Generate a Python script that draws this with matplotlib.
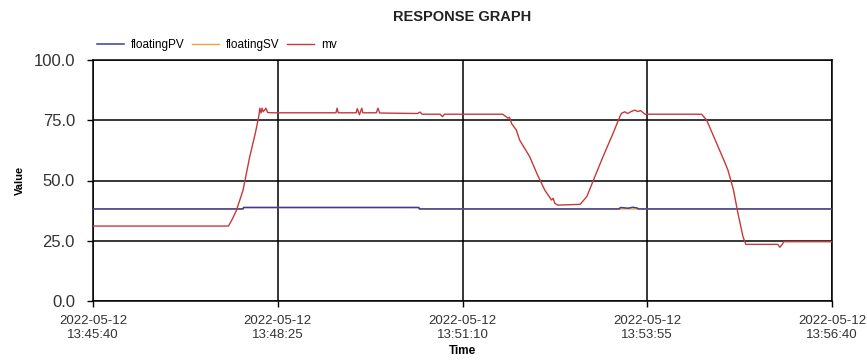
import datetime as dt

import matplotlib

matplotlib.use("Agg")
import matplotlib.pyplot as plt  # noqa: E402
import matplotlib.dates as mdates  # noqa: E402

plt.rcParams["font.family"] = ["Liberation Sans", "DejaVu Sans"]

# --- data (seconds after 13:45:40) ---
start = dt.datetime(2022, 5, 12, 13, 45, 40)

mv_t = [0, 121, 124, 128, 134, 140, 145, 148, 149, 150, 151, 152, 154.5, 156,
        160, 217, 218, 219, 235, 236, 238, 240, 241, 253, 254.5, 256, 290, 292,
        294, 310, 312, 314, 366, 370.5, 372, 374, 378, 381, 390, 397, 403.5,
        409.5, 411, 412.5, 415, 435, 441, 447, 455.5, 464.5, 470.5, 472, 475,
        477.5, 481, 484, 486.5, 489, 493, 543.5, 548, 557, 564, 567, 572, 576,
        580.5, 583, 611.5, 613.5, 615, 617, 660]
mv_v = [31.1, 31.1, 33.6, 37.5, 46.0, 59.9, 69.7, 76.5, 80.0, 78.0, 80.0, 78.5,
        80.0, 78.2, 78.1, 78.1, 80.0, 78.1, 78.1, 79.8, 77.3, 80.0, 78.1, 78.1,
        80.0, 78.0, 77.8, 78.4, 77.5, 77.5, 76.5, 77.5, 77.5, 75.9, 76.2, 73.5,
        71.0, 66.8, 59.9, 52.3, 46.0, 41.9, 42.6, 40.5, 39.8, 40.1, 43.3, 50.2,
        59.9, 69.6, 76.5, 77.9, 78.5, 77.8, 78.7, 79.2, 78.6, 79.0, 77.5, 77.5,
        75.1, 65.4, 57.8, 54.4, 46.1, 36.4, 26.7, 23.5, 23.5, 22.3, 23.2, 24.6,
        24.6]

pv_t = [0, 134, 134.5, 291, 291.5, 470, 471, 478, 482, 486, 487, 660]
pv_v = [38.2, 38.2, 38.8, 38.8, 38.2, 38.2, 38.8, 38.5, 38.9, 38.6, 38.2, 38.2]

sv_t = [0, 134, 134.5, 291, 291.5, 660]
sv_v = [38.2, 38.2, 38.8, 38.8, 38.2, 38.2]

tick_offsets = [0, 165, 330, 495, 660]
y_ticks = [0, 25, 50, 75, 100]


def to_time(offsets):
    return [start + dt.timedelta(seconds=s) for s in offsets]


W, H = 867, 362
fig = plt.figure(figsize=(W / 100, H / 100), dpi=100)
ax = fig.add_axes([93 / W, 1 - 301 / H, (832 - 93) / W, (301 - 60) / H])

ax.plot(to_time(sv_t), sv_v, color="#f2a23a", lw=1.0, label="floatingSV", zorder=2)
ax.plot(to_time(pv_t), pv_v, color="#3c3c9a", lw=1.1, label="floatingPV", zorder=3)
ax.plot(to_time(mv_t), mv_v, color="#c43a3a", lw=1.0, label="mv", zorder=4)

ax.set_xlim(to_time([0])[0], to_time([660])[0])
ax.set_ylim(0, 100)
ax.set_xticks(to_time(tick_offsets))
ax.xaxis.set_major_formatter(mdates.DateFormatter("%Y-%m-%d\n%H:%M:%S"))
ax.set_yticks(y_ticks)
ax.set_yticklabels([f"{v:.1f}" for v in y_ticks])

ax.grid(True, color="black", lw=1.1)
for s in ax.spines.values():
    s.set_color("black")
    s.set_linewidth(1.1)
ax.tick_params(axis="y", length=4, width=1, pad=9, labelsize=12, colors="black",
               labelcolor="#333333")
ax.tick_params(axis="x", length=4, width=1, pad=6, labelsize=9.5, colors="black",
               labelcolor="#333333")

ax.set_xlabel("Time", fontsize=8.5, fontweight="bold", labelpad=3)
ax.set_ylabel("Value", fontsize=8, fontweight="bold", labelpad=6)
fig.suptitle("RESPONSE GRAPH", x=462.5 / W, y=1 - 10 / H, fontsize=10.5,
             fontweight="bold", color="#222222", va="top")

handles, labels = ax.get_legend_handles_labels()
order = [1, 0, 2]
fig.legend([handles[i] for i in order], [labels[i] for i in order],
           loc="center left", bbox_to_anchor=(97 / W, 1 - 45 / H), ncol=3,
           frameon=False, fontsize=8.5, handlelength=2.3, handletextpad=0.6,
           columnspacing=0.6, borderpad=0, borderaxespad=0)

fig.savefig("out.png", dpi=100)
plt.close(fig)
